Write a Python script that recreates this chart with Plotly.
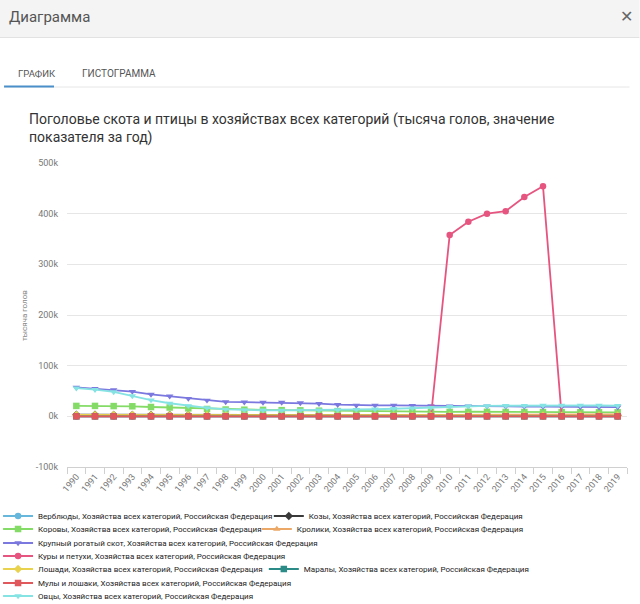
import plotly.graph_objects as go

years = ["1990", "1991", "1992", "1993", "1994", "1995", "1996", "1997", "1998", "1999",
         "2000", "2001", "2002", "2003", "2004", "2005", "2006", "2007", "2008", "2009",
         "2010", "2011", "2012", "2013", "2014", "2015", "2016", "2017", "2018", "2019"]

suffix = ", Хозяйства всех категорий, Российская Федерация"

camels = [10, 9, 9, 8, 7, 6, 6, 5, 5, 4, 4, 4, 4, 4, 4, 4, 4, 4, 4, 4,
          4, 4, 4, 4, 4, 4, 4, 4, 4, 4]
goats = [3100, 3000, 2900, 2800, 2700, 2600, 2500, 2400, 2300, 2200, 2150, 2100, 2100, 2100, 2100,
         2100, 2100, 2100, 2100, 2100, 2100, 2100, 2100, 2100, 2100, 2100, 2100, 2100, 2000, 2000]
cows = [20557, 20564, 20243, 19831, 18398, 17436, 15800, 14500, 13472, 13100,
        12743, 12191, 11800, 11100, 10300, 9523, 9360, 9280, 9127, 9026,
        8844, 9018, 8979, 8661, 8553, 8409, 8263, 8040, 7966, 7944]
rabbits = [1500, 1500, 1400, 1400, 1300, 1300, 1300, 1300, 1300, 1300, 1400, 1500, 1600, 1700, 1800,
           1900, 2000, 2200, 2400, 2600, 2800, 3000, 3200, 3400, 3600, 3700, 3800, 3900, 3900, 3900]
cattle = [57043, 54677, 52226, 48914, 43297, 39696, 35104, 31520, 28481, 28032,
          27520, 27294, 26525, 24935, 23005, 21625, 21562, 21547, 21038, 20671,
          19967, 20114, 19930, 19564, 19264, 18992, 18753, 18295, 18152, 18120]
chickens = [0, 0, 0, 0, 0, 0, 0, 0, 0, 0, 0, 0, 0, 0, 0, 0, 0, 0, 0, 0,
            358000, 384000, 400000, 405000, 433000, 454000, 0, 0, 0, 0]
horses = [2600, 2550, 2500, 2450, 2400, 2300, 2200, 2100, 2000, 1900, 1800, 1700, 1600, 1500, 1400,
          1350, 1300, 1300, 1300, 1300, 1300, 1300, 1300, 1300, 1300, 1300, 1300, 1300, 1300, 1300]
marals = [70, 70, 70, 70, 70, 70, 70, 70, 70, 70, 70, 70, 70, 70, 70,
          70, 70, 70, 70, 70, 70, 70, 70, 70, 70, 70, 70, 70, 70, 70]
mules = [3, 3, 3, 3, 2, 2, 2, 2, 2, 2, 2, 2, 2, 2, 2, 2, 2, 2, 2, 2,
         2, 2, 2, 2, 2, 2, 2, 2, 2, 2]
sheep = [55500, 52600, 48200, 40300, 32100, 25800, 20800, 16800, 13800, 12500,
         12000, 11600, 11800, 12200, 12700, 13300, 14000, 15000, 16300, 17300,
         19200, 20000, 20600, 20900, 21200, 21500, 21700, 21800, 21400, 20900]

series_names = ["Верблюды", "Козы", "Коровы", "Кролики", "Крупный рогатый скот",
                "Куры и петухи", "Лошади", "Маралы", "Мулы и лошаки", "Овцы"]
series_values = [camels, goats, cows, rabbits, cattle, chickens, horses, marals, mules, sheep]
series_colors = ["#67b7dc", "#3a3a3a", "#84dc67", "#eba866", "#7b78df",
                 "#e65580", "#e8d24e", "#2b8b86", "#e0575c", "#86e3e3"]
series_symbols = ["circle", "diamond", "square", "triangle-up", "triangle-down",
                  "circle", "diamond", "square", "square", "triangle-down"]

W, H = 640, 604
PL, PR, PT, PB = 67, 627.5, 163, 467

y_tickvals = [-100000, 0, 100000, 200000, 300000, 400000, 500000]
y_ticktext = ["-100k", "0k", "100k", "200k", "300k", "400k", "500k"]

# legend entry placement (pixel x of entry start, pixel y of row centre)
legend_pos = [(-2, 516), (269, 516), (-2, 529), (257, 529), (-2, 543),
              (-2, 556), (-2, 569), (264, 569), (-2, 583), (-2, 596)]


def fx(px):
    return (px - PL) / (PR - PL)


def fy(py):
    return (PB - py) / (PB - PT)


FONT = "Roboto"

fig = go.Figure()
leg_layout = {}
for i, (name, vals, col, sym, pos) in enumerate(zip(series_names, series_values, series_colors,
                                                     series_symbols, legend_pos)):
    key = "legend" if i == 0 else "legend%d" % (i + 1)
    fig.add_trace(go.Scatter(
        x=years, y=vals, mode="lines+markers", name=name + suffix,
        line=dict(color=col, width=1.8),
        marker=dict(color=col, symbol=sym, size=6.5),
        legend=key,
    ))
    leg_layout[key] = dict(
        orientation="h", x=fx(pos[0]), y=fy(pos[1]), xanchor="left", yanchor="middle",
        bgcolor="rgba(0,0,0,0)", font=dict(family=FONT, size=8, color="#222222"),
        itemwidth=30,
    )

shapes = [
    dict(type="rect", xref="paper", yref="paper", x0=fx(0), x1=fx(640), y0=fy(0), y1=fy(37),
         fillcolor="#f4f4f4", line=dict(width=0), layer="below"),
    dict(type="line", xref="paper", yref="paper", x0=fx(0), x1=fx(640), y0=fy(37.5), y1=fy(37.5),
         line=dict(color="#e2e2e2", width=1)),
    dict(type="line", xref="paper", yref="paper", x0=fx(4), x1=fx(630), y0=fy(87), y1=fy(87),
         line=dict(color="#e6e6e6", width=1)),
    dict(type="line", xref="paper", yref="paper", x0=fx(4), x1=fx(54), y0=fy(86.5), y1=fy(86.5),
         line=dict(color="#4a8fc9", width=2)),
]

annotations = [
    dict(text="Диаграмма", x=fx(7), y=fy(17), xref="paper", yref="paper", xanchor="left",
         yanchor="middle", showarrow=False, font=dict(family=FONT, size=15, color="#555555")),
    dict(text="<b>✕</b>", x=fx(627), y=fy(17), xref="paper", yref="paper", xanchor="center",
         yanchor="middle", showarrow=False, font=dict(family="DejaVu Sans", size=16, color="#666666")),
    dict(text="ГРАФИК", x=fx(16), y=fy(73), xref="paper", yref="paper", xanchor="left",
         yanchor="middle", showarrow=False, font=dict(family=FONT, size=9.5, color="#555555")),
    dict(text="ГИСТОГРАММА", x=fx(80), y=fy(73), xref="paper", yref="paper", xanchor="left",
         yanchor="middle", showarrow=False, font=dict(family=FONT, size=10, color="#555555")),
    dict(text="Поголовье скота и птицы в хозяйствах всех категорий (тысяча голов, значение<br>показателя за год)",
         x=fx(27), y=fy(109), xref="paper", yref="paper", xanchor="left", yanchor="top", align="left",
         showarrow=False, font=dict(family=FONT, size=14, color="#333333")),
    dict(text="тысяча голов", x=fx(24), y=fy(316), xref="paper", yref="paper", xanchor="center",
         yanchor="middle", textangle=-90, showarrow=False,
         font=dict(family=FONT, size=8, color="#888888")),
]

fig.update_layout(
    width=W, height=H,
    margin=dict(l=PL, r=W - PR, t=PT, b=H - PB, autoexpand=False),
    paper_bgcolor="white", plot_bgcolor="white",
    showlegend=True,
    shapes=shapes, annotations=annotations,
    font=dict(family=FONT),
    xaxis=dict(
        type="category", range=[-0.5, len(years) - 0.5], tickson="boundaries",
        ticks="outside", ticklen=6, tickcolor="#d0d0d0", showgrid=False,
        showline=True, linecolor="#d0d0d0", tickangle=-50,
        tickfont=dict(family=FONT, size=9, color="#777777"), zeroline=False,
    ),
    yaxis=dict(
        range=[-100000, 500000], tickvals=y_tickvals, ticktext=y_ticktext,
        showgrid=True, gridcolor="#e6e6e6", zeroline=False, showline=False,
        tickfont=dict(family=FONT, size=9, color="#777777"), ticks="",
        ticklabelstandoff=8,
    ),
    hovermode="closest",
    **leg_layout,
)

fig.write_html("out.html")
